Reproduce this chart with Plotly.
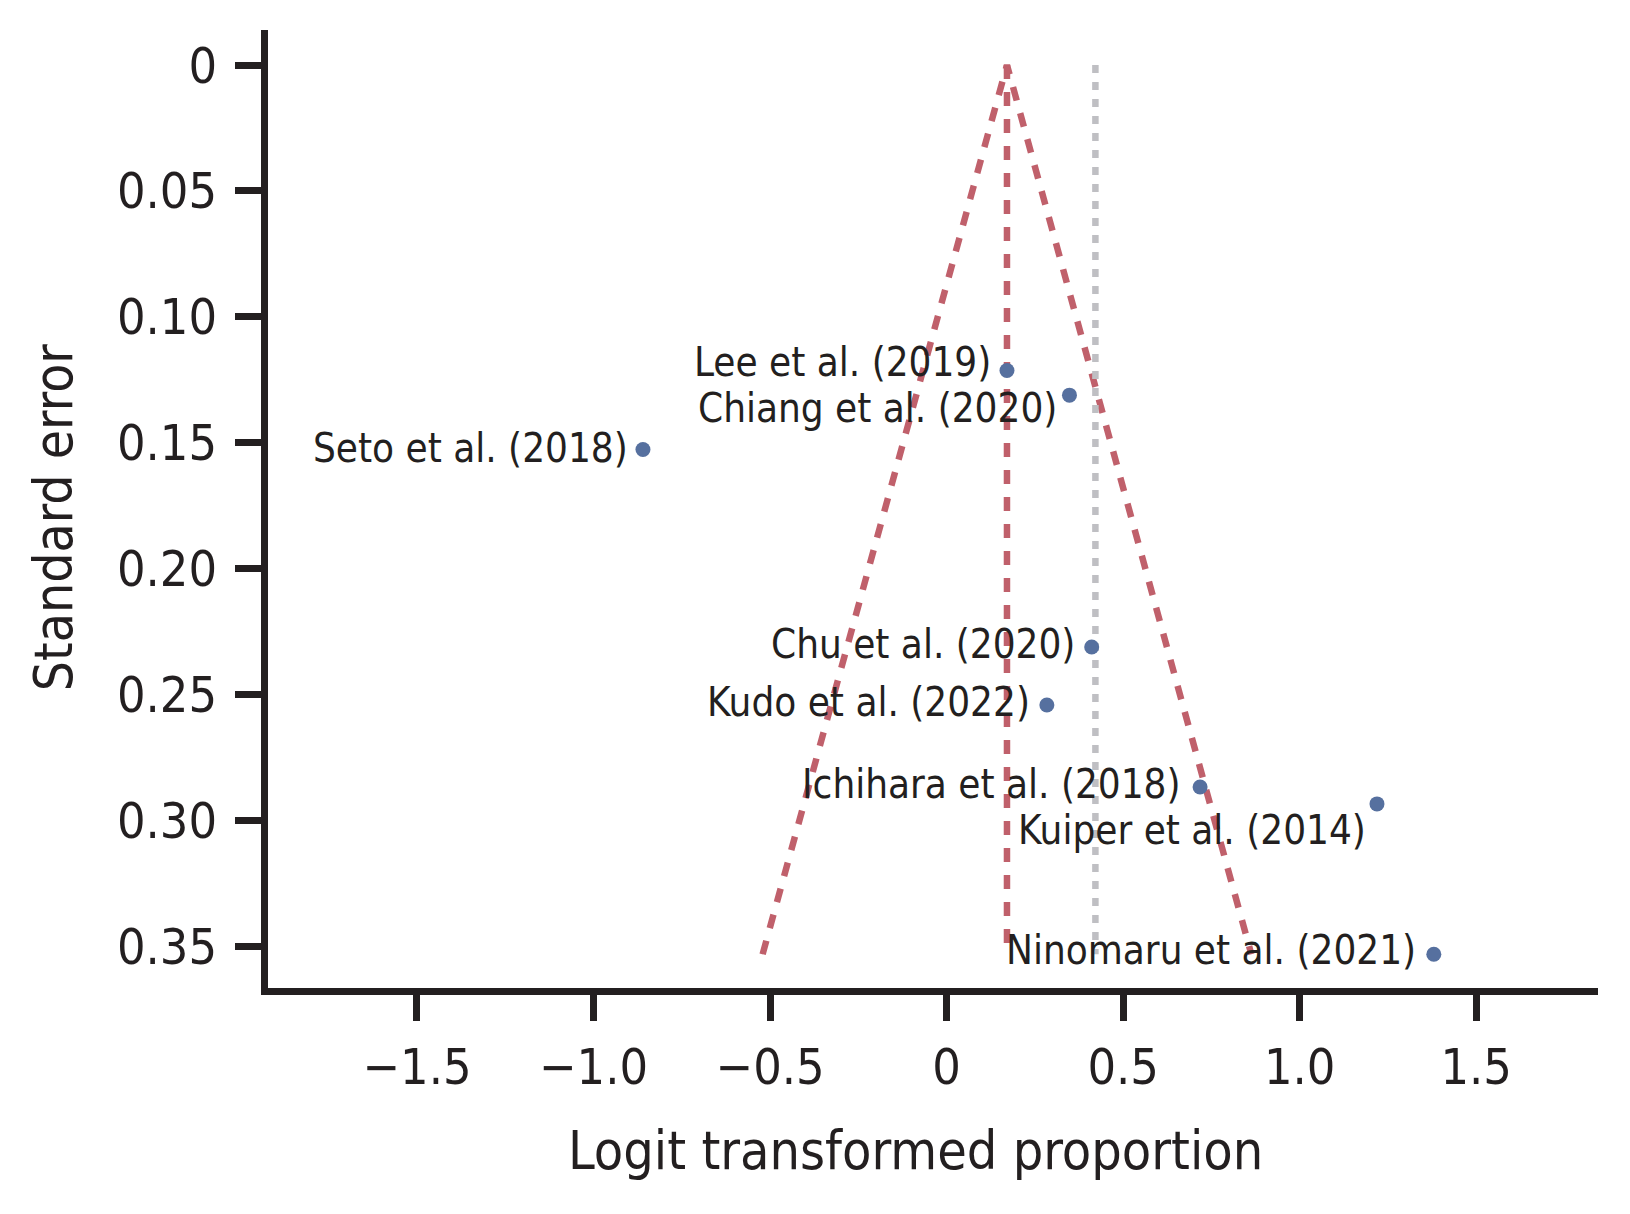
import plotly.graph_objects as go

# ---- data ----
studies = ["Seto et al. (2018)", "Lee et al. (2019)", "Chiang et al. (2020)", "Chu et al. (2020)",
           "Kudo et al. (2022)", "Ichihara et al. (2018)", "Kuiper et al. (2014)", "Ninomaru et al. (2021)"]
logit_prop = [-0.860, 0.171, 0.348, 0.411, 0.284, 0.718, 1.219, 1.380]
std_err = [0.1527, 0.1213, 0.1311, 0.2311, 0.2541, 0.2867, 0.2934, 0.3531]
pooled_common = 0.171
pooled_random = 0.4215
x_ticks = [-1.5, -1.0, -0.5, 0, 0.5, 1.0, 1.5]
x_ticktext = ["\u22121.5", "\u22121.0", "\u22120.5", "0", "0.5", "1.0", "1.5"]
y_ticks = [0, 0.05, 0.10, 0.15, 0.20, 0.25, 0.30, 0.35]
y_ticktext = ["0", "0.05", "0.10", "0.15", "0.20", "0.25", "0.30", "0.35"]

# label offsets (pixels) relative to each point: (xshift, yshift)
label_shift = [(-13, 2), (-14, 8), (-10, -13), (-15, 3), (-15, 3), (-17, 3), (-9, -26), (-16, 4)]

FONT = "Liberation Sans Narrow, Arial Narrow, DejaVu Sans Condensed, sans-serif"
INK = "#231f20"
RED = "#c0606b"
BLUE = "#56709f"
GREY = "#bfbfc3"

se_max = max(std_err)
z = 1.96

fig = go.Figure()
# funnel
fig.add_trace(go.Scatter(
    x=[pooled_common - z * se_max, pooled_common, pooled_common + z * se_max],
    y=[se_max, 0, se_max], mode="lines",
    line=dict(color=RED, width=6.5, dash="14px,13px"), hoverinfo="skip", showlegend=False))
fig.add_trace(go.Scatter(
    x=[pooled_common, pooled_common], y=[0, se_max], mode="lines",
    line=dict(color=RED, width=6.5, dash="14px,13px"), hoverinfo="skip", showlegend=False))
fig.add_trace(go.Scatter(
    x=[pooled_random, pooled_random], y=[0, se_max], mode="lines",
    line=dict(color=GREY, width=6.5, dash="8px,9px"), hoverinfo="skip", showlegend=False))
# points
fig.add_trace(go.Scatter(
    x=logit_prop, y=std_err, mode="markers",
    marker=dict(color=BLUE, size=15, line=dict(width=0)), showlegend=False))

for name, xv, yv, (dx, dy) in zip(studies, logit_prop, std_err, label_shift):
    fig.add_annotation(x=xv, y=yv, text=name, showarrow=False, xanchor="right", yanchor="middle",
                       xshift=dx, yshift=dy, font=dict(family=FONT, size=40, color=INK))

fig.add_annotation(xref="paper", yref="paper", x=0.4872, y=-0.1696, text="Logit transformed proportion",
                   showarrow=False, xanchor="center", yanchor="middle",
                   font=dict(family=FONT, size=53.5, color=INK))
fig.add_annotation(xref="paper", yref="paper", x=-0.1615, y=0.4916, text="Standard error",
                   showarrow=False, xanchor="center", yanchor="middle", textangle=-90,
                   font=dict(family=FONT, size=53, color=INK))

fig.update_layout(
    width=1630, height=1214, margin=dict(l=268, r=32, t=30, b=226),
    plot_bgcolor="white", paper_bgcolor="white",
    font=dict(family=FONT, color=INK),
    xaxis=dict(range=[-1.922, 1.845], tickvals=x_ticks, ticktext=x_ticktext, showgrid=False,
               zeroline=False, showline=True, linewidth=7, linecolor=INK, ticks="outside",
               ticklen=26, tickwidth=7, tickcolor=INK, tickfont=dict(family=FONT, size=50, color=INK),
               ticklabelstandoff=3),
    yaxis=dict(range=[0.3665, -0.0139], tickvals=y_ticks, ticktext=y_ticktext, showgrid=False,
               zeroline=False, showline=True, linewidth=7, linecolor=INK, ticks="outside",
               ticklen=26, tickwidth=7, tickcolor=INK, tickfont=dict(family=FONT, size=50, color=INK),
               ticklabelstandoff=8),
)

fig.write_html("out.html", config={"displayModeBar": False},
               post_script="document.body.style.margin='0px';")
